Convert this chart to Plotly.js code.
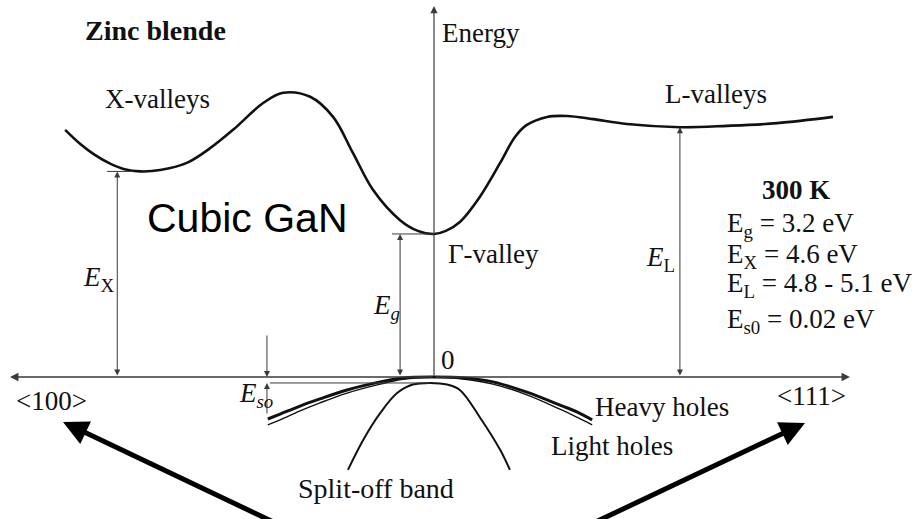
<!DOCTYPE html>
<html>
<head>
<meta charset="utf-8">
<script src="https://cdn.plot.ly/plotly-3.0.1.min.js"></script>
<style>
  html, body { margin: 0; padding: 0; background: #ffffff; }
  #chart { width: 921px; height: 519px; }
</style>
</head>
<body>
<div id="chart"></div>
<script>
// Schematic band structure of cubic (zinc blende) GaN.
// k: wavevector, Gamma at 0, <100> towards negative k, <111> towards positive k.
// E: energy in eV, top of the valence band at 0.

const Eg = 3.2;          // Gamma-valley minimum
const EX = 4.6;          // X-valley minimum
const ELvalley = 5.59;   // L-valley minimum as drawn
const EsoDrawn = -0.134; // split-off band top as drawn

const kX = -0.747, kG = 0, kL = 0.580;

// conduction band along <100> ... Gamma ... <111>
const kCond = [-0.870, -0.835, -0.800, -0.765, -0.730, -0.693, -0.646, -0.583, -0.528, -0.474, -0.403,
               -0.356, -0.292, -0.238, -0.191, -0.144, -0.080, -0.038, 0, 0.028, 0.061,
               0.108, 0.156, 0.191, 0.219, 0.267, 0.314, 0.375, 0.455, 0.580, 0.691, 0.809, 0.941];
const eCond = [5.53, 5.22, 4.97, 4.78, 4.65, 4.60, 4.63, 4.79, 5.12, 5.53, 6.13,
               6.36, 6.27, 5.82, 5.01, 4.19, 3.51, 3.27, 3.20, 3.27, 3.47,
               4.03, 4.79, 5.37, 5.64, 5.82, 5.84, 5.77, 5.66, 5.59, 5.62, 5.68, 5.82];

// valence bands
const kHoles = [-0.392, -0.363, -0.316, -0.269, -0.205, -0.127, -0.073, 0, 0.073, 0.139, 0.219, 0.297, 0.337, 0.373];
const eHeavy = [-0.94, -0.83, -0.65, -0.49, -0.29, -0.11, -0.02, 0, -0.02, -0.11, -0.34, -0.63, -0.78, -0.96];
const eLight = [-1.07, -0.96, -0.76, -0.58, -0.36, -0.16, -0.05, 0, -0.05, -0.16, -0.40, -0.72, -0.90, -1.07];

const kSplit = [-0.203, -0.167, -0.127, -0.087, -0.050, -0.009, 0.031, 0.061, 0.108, 0.156, 0.179];
const eSplit = [-2.08, -1.41, -0.81, -0.36, -0.17, -0.134, -0.17, -0.29, -0.90, -1.63, -2.08];

// reference ticks at the valley minima and the split-off top
const kTickX = [-0.771, -0.710], kTickG = [-0.099, 0], kTickSo = [-0.387, -0.009];
const kSoArrow = -0.394;

const W = 921, H = 519;
const xRange = [-1.0236, 1.1486];
const yRange = [-3.178, 8.436];

const serif = 'Liberation Serif';
const sans = 'Liberation Sans';
const ink = '#111111';
const thin = '#3a3a3a';

function line(x, y, width, color, smooth) {
  return {
    x: x, y: y, type: 'scatter', mode: 'lines', hoverinfo: 'skip',
    line: { color: color || ink, width: width, shape: smooth ? 'spline' : 'linear', smoothing: 1 }
  };
}

const traces = [
  line(kCond, eCond, 2.6, ink, true),
  line(kHoles, eLight, 1.4, ink, true),
  line(kHoles, eHeavy, 3.0, ink, true),
  line(kSplit, eSplit, 2.0, ink, true),
  line(kTickX, [EX, EX], 1, thin),
  line(kTickG, [Eg, Eg], 1, thin),
  line(kTickSo, [EsoDrawn, EsoDrawn], 1, thin)
];

// arrows in data coordinates
function arrow(x0, y0, x1, y1, opts) {
  return Object.assign({
    x: x1, y: y1, ax: x0, ay: y0, xref: 'x', yref: 'y', axref: 'x', ayref: 'y',
    text: '', showarrow: true, arrowhead: 2, arrowsize: 1.2, arrowwidth: 1,
    arrowcolor: thin, standoff: 0, startstandoff: 0
  }, opts || {});
}

// text placed in page units
function label(text, px, py, size, extra) {
  return Object.assign({
    text: text, x: px / W, y: 1 - py / H, xref: 'paper', yref: 'paper',
    xanchor: 'left', yanchor: 'middle', showarrow: false,
    font: { family: serif, size: size, color: ink }
  }, extra || {});
}

const annotations = [
  // axes
  arrow(0, 0, -1.0, 0, { arrowwidth: 1.4 }),
  arrow(0, 0, 0.981, 0, { arrowwidth: 1.4 }),
  arrow(0, 0, 0, 8.30, { arrowwidth: 1.2 }),
  // energy separations
  arrow(kX, 0, kX, EX, { arrowside: 'end+start' }),
  arrow(-0.080, 0, -0.080, Eg, { arrowside: 'end+start' }),
  arrow(kL, 0, kL, ELvalley, { arrowside: 'end+start' }),
  arrow(kSoArrow, 0.962, kSoArrow, 0),
  arrow(kSoArrow, -0.850, kSoArrow, EsoDrawn),
  // pointers to the two directions
  arrow(-0.3665, -3.30, -0.875, -1.007, { arrowwidth: 5, arrowsize: 1, arrowcolor: '#000000' }),
  arrow(0.3687, -3.30, 0.875, -1.029, { arrowwidth: 5, arrowsize: 1, arrowcolor: '#000000' }),

  label('<b>Zinc blende</b>', 83, 31, 28),
  label('X-valleys', 103, 99, 27),
  label('Energy', 440, 33, 27),
  label('L-valleys', 663, 94, 27),
  label('Cubic GaN', 145, 218, 41, { font: { family: sans, size: 41, color: '#000000' } }),
  label('<b>300 K</b>', 760, 190, 27),
  label('E<sub>g</sub> = 3.2 eV', 725, 225, 27),
  label('E<sub>X</sub> = 4.6 eV', 725, 256, 27),
  label('E<sub>L</sub> = 4.8 - 5.1 eV', 725, 285, 27),
  label('E<sub>s0</sub> = 0.02 eV', 725, 321, 27),
  label('Γ-valley', 446, 254, 27),
  label('<i>E</i><sub>X</sub>', 81, 279, 27),
  label('<i>E<sub>g</sub></i>', 371, 307, 27),
  label('<i>E</i><sub>L</sub>', 644, 259, 27),
  label('<i>E<sub>so</sub></i>', 237, 395, 27),
  label('0', 439, 360, 27),
  label('&lt;100&gt;', 14, 401, 27),
  label('&lt;111&gt;', 775, 396, 27),
  label('Heavy holes', 593, 407, 27),
  label('Light holes', 549, 446, 27),
  label('Split-off band', 296, 488, 28)
];

const layout = {
  width: W, height: H,
  margin: { l: 0, r: 0, t: 0, b: 0, pad: 0 },
  paper_bgcolor: '#ffffff', plot_bgcolor: '#ffffff',
  showlegend: false,
  xaxis: { range: xRange, visible: false, fixedrange: true },
  yaxis: { range: yRange, visible: false, fixedrange: true },
  annotations: annotations
};

Plotly.newPlot('chart', traces, layout, { displayModeBar: false, staticPlot: true });
</script>
</body>
</html>
